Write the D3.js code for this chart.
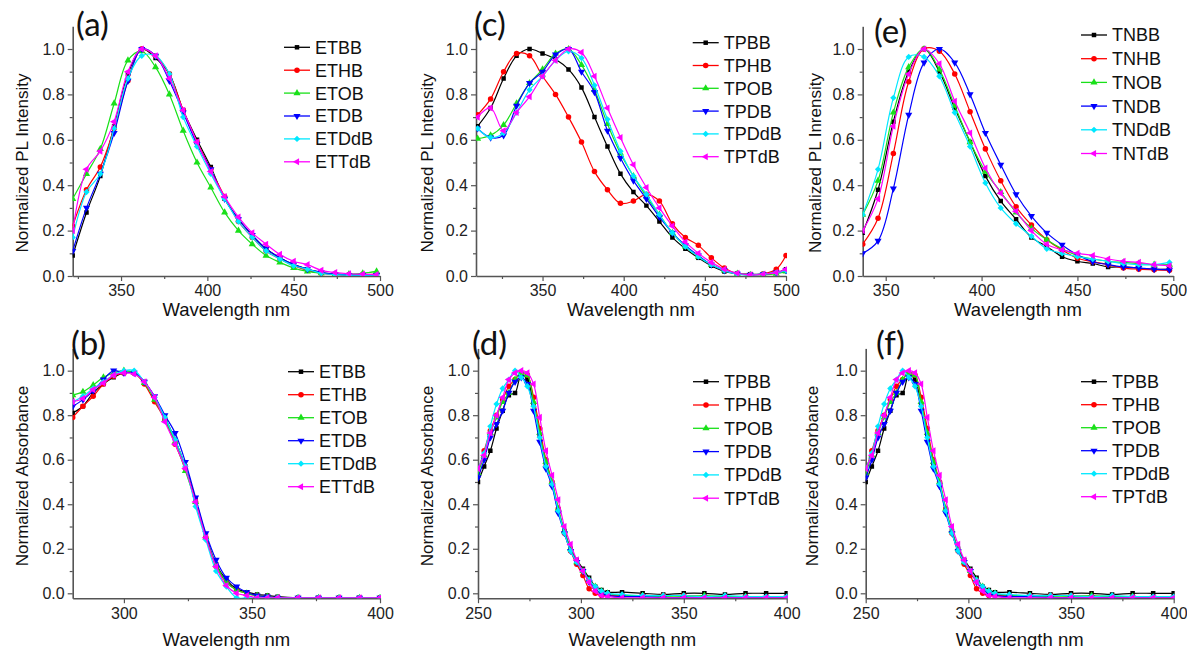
<!DOCTYPE html>
<html>
<head>
<meta charset="utf-8">
<script src="https://cdn.jsdelivr.net/npm/d3@7"></script>
<style>
	body { margin: 0; background: #fff; }
	text { font-family: "Liberation Sans", Arial, sans-serif; }
</style>
</head>
<body>
<svg id="chart" width="1187" height="650"></svg>
<script>
/* ---- panel (a): ET series, PL ---- */
const X_A = [322,330,338,346,354,362,370,378,386,394,402,410,418,426,434,442,450,458,466,474,482,490,498];
const A_ETBB  = [0.09,0.28,0.44,0.66,0.89,1.0,0.96,0.89,0.73,0.60,0.48,0.34,0.25,0.18,0.12,0.08,0.05,0.03,0.015,0.008,0.005,0.005,0.005];
const A_ETHB  = [0.22,0.38,0.48,0.65,0.86,1.0,0.97,0.89,0.73,0.59,0.47,0.35,0.24,0.17,0.11,0.075,0.045,0.025,0.012,0.006,0.004,0.005,0.01];
const A_ETOB  = [0.34,0.45,0.56,0.76,0.95,0.99,0.92,0.80,0.64,0.50,0.39,0.28,0.20,0.14,0.09,0.06,0.035,0.02,0.012,0.008,0.008,0.012,0.02];
const A_ETDB  = [0.11,0.30,0.45,0.63,0.86,1.0,0.97,0.86,0.72,0.58,0.47,0.34,0.25,0.18,0.12,0.08,0.05,0.03,0.015,0.008,0.004,0.004,0.004];
const A_ETDdB = [0.17,0.37,0.45,0.65,0.87,0.97,0.97,0.89,0.70,0.57,0.45,0.34,0.24,0.17,0.11,0.075,0.045,0.03,0.012,0.006,0.004,0.004,0.004];
const A_ETTdB = [0.20,0.47,0.55,0.68,0.90,1.0,0.97,0.87,0.73,0.59,0.46,0.35,0.26,0.19,0.14,0.095,0.065,0.05,0.025,0.015,0.01,0.008,0.006];

/* ---- panel (c): TP series, PL ---- */
const X_C = [310,318,326,334,342,350,358,366,374,382,390,398,406,414,422,430,438,446,454,462,470,478,486,494,500];
const C_TPBB  = [0.66,0.74,0.87,0.97,1.0,0.98,0.955,0.91,0.83,0.70,0.57,0.45,0.37,0.31,0.24,0.17,0.12,0.08,0.045,0.02,0.01,0.008,0.008,0.015,0.03];
const C_TPHB  = [0.71,0.78,0.90,0.98,0.97,0.88,0.80,0.70,0.59,0.46,0.38,0.32,0.33,0.36,0.33,0.23,0.17,0.135,0.08,0.035,0.01,0.005,0.01,0.03,0.09];
const C_TPOB  = [0.605,0.62,0.665,0.76,0.85,0.91,0.98,1.0,0.93,0.82,0.67,0.54,0.44,0.35,0.27,0.19,0.13,0.085,0.05,0.025,0.01,0.005,0.005,0.01,0.02];
const C_TPDB  = [0.65,0.61,0.62,0.75,0.85,0.90,0.975,1.0,0.90,0.81,0.64,0.52,0.42,0.34,0.26,0.19,0.135,0.09,0.05,0.025,0.01,0.005,0.008,0.015,0.025];
const C_TPDdB = [0.65,0.61,0.63,0.72,0.82,0.88,0.95,0.99,0.96,0.84,0.69,0.55,0.44,0.36,0.27,0.19,0.13,0.085,0.05,0.025,0.008,0.005,0.008,0.015,0.025];
const C_TPTdB = [0.70,0.74,0.64,0.72,0.79,0.88,0.95,1.0,0.985,0.88,0.74,0.61,0.49,0.39,0.30,0.22,0.15,0.10,0.06,0.03,0.012,0.005,0.008,0.015,0.03];

/* ---- panel (e): TN series, PL ---- */
const X_E = [338,346,354,362,370,378,386,394,402,410,418,426,434,442,450,458,466,474,482,490,498];
const E_TNBB  = [0.19,0.38,0.68,0.90,1.0,0.90,0.74,0.59,0.44,0.33,0.25,0.17,0.13,0.085,0.065,0.055,0.04,0.04,0.035,0.03,0.03];
const E_TNHB  = [0.14,0.254,0.54,0.856,1.0,0.99,0.89,0.724,0.56,0.42,0.305,0.225,0.16,0.115,0.078,0.063,0.05,0.035,0.03,0.027,0.025];
const E_TNOB  = [0.27,0.42,0.72,0.92,1.0,0.91,0.75,0.59,0.46,0.37,0.28,0.21,0.16,0.12,0.09,0.075,0.065,0.06,0.055,0.05,0.05];
const E_TNDB  = [0.10,0.155,0.385,0.71,0.94,1.0,0.94,0.80,0.63,0.49,0.36,0.264,0.19,0.137,0.093,0.063,0.05,0.04,0.035,0.03,0.027];
const E_TNDdB = [0.27,0.47,0.785,0.965,0.965,0.88,0.72,0.57,0.41,0.30,0.23,0.175,0.12,0.10,0.085,0.075,0.065,0.055,0.05,0.05,0.06];
const E_TNTdB = [0.20,0.34,0.66,0.89,1.0,0.935,0.77,0.63,0.475,0.365,0.285,0.20,0.14,0.115,0.10,0.09,0.075,0.065,0.06,0.05,0.045];

/* ---- panel (b): ET series, absorbance ---- */
const X_B = [280,284,288,292,296,300,304,308,312,316,320,324,328,332,336,340,344,348,352,356,360,368,376,384,392,400];
const B_ETBB  = [0.81,0.84,0.90,0.94,0.97,0.99,0.99,0.95,0.88,0.79,0.69,0.57,0.42,0.26,0.13,0.06,0.02,0.005,-0.005,-0.01,-0.015,-0.02,-0.02,-0.02,-0.02,-0.02];
const B_ETHB  = [0.79,0.84,0.885,0.94,0.975,0.99,0.99,0.94,0.86,0.78,0.67,0.56,0.41,0.25,0.12,0.05,0.015,0.0,-0.01,-0.015,-0.02,-0.02,-0.02,-0.02,-0.02,-0.02];
const B_ETOB  = [0.89,0.905,0.935,0.97,0.99,1.0,0.99,0.945,0.87,0.78,0.68,0.55,0.41,0.25,0.13,0.05,0.015,0.0,-0.01,-0.015,-0.02,-0.02,-0.02,-0.02,-0.02,-0.02];
const B_ETDB  = [0.84,0.87,0.91,0.96,1.0,0.99,0.99,0.95,0.885,0.80,0.72,0.59,0.43,0.27,0.15,0.07,0.03,0.005,-0.01,-0.015,-0.02,-0.02,-0.02,-0.02,-0.02,-0.02];
const B_ETDdB = [0.86,0.885,0.92,0.95,0.98,1.0,1.0,0.95,0.88,0.79,0.69,0.57,0.39,0.24,0.10,0.03,-0.02,-0.02,-0.02,-0.02,-0.02,-0.02,-0.02,-0.02,-0.02,-0.02];
const B_ETTdB = [0.86,0.875,0.915,0.945,0.98,0.99,0.985,0.95,0.88,0.77,0.67,0.56,0.41,0.25,0.12,0.035,0.0,-0.01,-0.02,-0.02,-0.02,-0.02,-0.02,-0.02,-0.02,-0.02];

/* ---- panels (d) and (f): TP series, absorbance (same curves in both) ---- */
const X_D = [250,253,256,259,262,265,268,271,274,277,280,283,286,289,292,295,298,301,304,307,310,313,320,330,340,350,360,370,380,390,400];
const D_TPBB  = [0.50,0.57,0.64,0.74,0.82,0.89,0.90,0.98,0.96,0.85,0.71,0.58,0.49,0.37,0.28,0.20,0.15,0.11,0.07,0.03,0.015,0.005,0.005,0.0,-0.005,0.0,0.0,-0.005,0.0,0.0,0.0];
const D_TPHB  = [0.55,0.64,0.73,0.80,0.87,0.93,0.96,0.99,0.98,0.88,0.74,0.60,0.50,0.38,0.27,0.19,0.13,0.08,0.02,0.0,-0.01,-0.01,-0.01,-0.01,-0.01,-0.01,-0.015,-0.015,-0.015,-0.02,-0.02];
const D_TPOB  = [0.54,0.62,0.72,0.79,0.86,0.90,0.96,0.99,0.98,0.86,0.72,0.59,0.50,0.38,0.28,0.20,0.14,0.10,0.06,0.03,0.01,0.0,-0.01,-0.01,-0.015,-0.015,-0.01,-0.015,-0.015,-0.02,-0.02];
const D_TPDB  = [0.52,0.60,0.70,0.76,0.82,0.90,0.95,0.97,0.94,0.82,0.68,0.56,0.48,0.36,0.27,0.19,0.14,0.10,0.05,0.02,0.0,-0.01,-0.015,-0.015,-0.02,-0.02,-0.02,-0.02,-0.02,-0.02,-0.02];
const D_TPDdB = [0.56,0.63,0.75,0.85,0.92,0.96,1.0,0.97,0.93,0.84,0.70,0.57,0.49,0.37,0.27,0.19,0.14,0.10,0.06,0.03,0.01,0.0,-0.005,-0.01,-0.01,-0.01,-0.015,-0.01,-0.015,-0.015,-0.015];
const D_TPTdB = [0.56,0.62,0.72,0.80,0.88,0.96,0.99,1.0,0.99,0.94,0.79,0.64,0.53,0.42,0.30,0.22,0.15,0.10,0.05,0.01,-0.01,-0.015,-0.02,-0.02,-0.02,-0.02,-0.02,-0.02,-0.02,-0.02,-0.02];

const NAMES_ET = ['ETBB','ETHB','ETOB','ETDB','ETDdB','ETTdB'];
const NAMES_TP = ['TPBB','TPHB','TPOB','TPDB','TPDdB','TPTdB'];
const NAMES_TN = ['TNBB','TNHB','TNOB','TNDB','TNDdB','TNTdB'];
const Y_TICKS = [0.0,0.2,0.4,0.6,0.8,1.0];
const Y_MINOR = [0.1,0.3,0.5,0.7,0.9];

const COLORS = ['#000000','#ff0000','#19e019','#0000ff','#00e8ff','#ff00ff'];
// square, circle, up triangle, down triangle, diamond, left triangle
const SYMBOLS = [
	{type: d3.symbolSquare, rot: 0, size: 20},
	{type: d3.symbolCircle, rot: 0, size: 24},
	{type: d3.symbolTriangle, rot: 0, size: 22},
	{type: d3.symbolTriangle, rot: 180, size: 22},
	{type: d3.symbolSquare, rot: 45, size: 20},
	{type: d3.symbolTriangle, rot: -90, size: 22}
];

const PANELS = [
	{id:'a', label:'(a)', xs:X_A, names:NAMES_ET, ys:[A_ETBB,A_ETHB,A_ETOB,A_ETDB,A_ETDdB,A_ETTdB],
	 xDom:[322,500], xTicks:[350,400,450,500], xMinor:[325,375,425,475], yDom:[0,1.1],
	 px:[72.7,380], py:[276,26.3], yTitle:'Normalized PL Intensity', yTitleX:28, yTitleY:163,
	 labX:76, labY:36, legX:284, legY:47.3, legDy:22.9, xTitleY:316},
	{id:'c', label:'(c)', xs:X_C, names:NAMES_TP, ys:[C_TPBB,C_TPHB,C_TPOB,C_TPDB,C_TPDdB,C_TPTdB],
	 xDom:[309,500], xTicks:[350,400,450,500], xMinor:[325,375,425,475], yDom:[0,1.1],
	 px:[476,786], py:[276,26.3], yTitle:'Normalized PL Intensity', yTitleX:433, yTitleY:163,
	 labX:474, labY:36, legX:692.7, legY:42.7, legDy:22.8, xTitleY:316},
	{id:'e', label:'(e)', xs:X_E, names:NAMES_TN, ys:[E_TNBB,E_TNHB,E_TNOB,E_TNDB,E_TNDdB,E_TNTdB],
	 xDom:[338,500], xTicks:[350,400,450,500], xMinor:[375,425,475], yDom:[0,1.1],
	 px:[862.7,1173.3], py:[276,26.3], yTitle:'Normalized PL Inrensity', yTitleX:821, yTitleY:163,
	 labX:874, labY:43, legX:1081, legY:35, legDy:23.7, xTitleY:316},
	{id:'b', label:'(b)', xs:X_B, names:NAMES_ET, ys:[B_ETBB,B_ETHB,B_ETOB,B_ETDB,B_ETDdB,B_ETTdB],
	 xDom:[280,400], xTicks:[300,350,400], xMinor:[325,375], yDom:[-0.022,1.1],
	 px:[72.7,380], py:[598.2,348.4], yTitle:'Normalized Absorbance', yTitleX:28, yTitleY:476,
	 labX:71, labY:355, legX:288, legY:371.7, legDy:23, xTitleY:646},
	{id:'d', label:'(d)', xs:X_D, names:NAMES_TP, ys:[D_TPBB,D_TPHB,D_TPOB,D_TPDB,D_TPDdB,D_TPTdB],
	 xDom:[250,400], xTicks:[250,300,350,400], xMinor:[275,325,375], yDom:[-0.022,1.1],
	 px:[478,786.7], py:[598.2,348.4], yTitle:'Normalized Absorbance', yTitleX:433, yTitleY:476,
	 labX:472, labY:355, legX:693, legY:381.7, legDy:23.3, xTitleY:646},
	{id:'f', label:'(f)', xs:X_D, names:NAMES_TP, ys:[D_TPBB,D_TPHB,D_TPOB,D_TPDB,D_TPDdB,D_TPTdB],
	 xDom:[250,400], xTicks:[250,300,350,400], xMinor:[275,325,375], yDom:[-0.022,1.1],
	 px:[865.7,1173.7], py:[598.2,348.4], yTitle:'Normalized Absorbance', yTitleX:818, yTitleY:476,
	 labX:876, labY:355, legX:1081, legY:381.7, legDy:23, xTitleY:646}
];

const svg = d3.select('#chart');

function symbolPath(i) {
	return d3.symbol().type(SYMBOLS[i].type).size(SYMBOLS[i].size)();
}

function drawPanel(p) {
	const x = d3.scaleLinear().domain(p.xDom).range(p.px);
	const y = d3.scaleLinear().domain(p.yDom).range(p.py);
	const g = svg.append('g');

	/* clip so curves stay inside the axes */
	svg.append('clipPath').attr('id', 'clip-' + p.id)
		.append('rect')
		.attr('x', p.px[0]).attr('y', p.py[1] - 6)
		.attr('width', p.px[1] - p.px[0] + 1)
		.attr('height', p.py[0] - p.py[1] + 6);

	/* axes: major + minor ticks */
	const axisColor = '#555';
	g.append('g').attr('transform', `translate(0,${p.py[0]})`)
		.call(d3.axisBottom(x).tickValues(p.xTicks).tickSize(5).tickSizeOuter(0).tickPadding(4));
	g.append('g').attr('transform', `translate(0,${p.py[0]})`)
		.call(d3.axisBottom(x).tickValues(p.xMinor).tickSize(3).tickSizeOuter(0).tickFormat(''))
		.select('.domain').remove();
	g.append('g').attr('transform', `translate(${p.px[0]},0)`)
		.call(d3.axisLeft(y).tickValues(Y_TICKS).tickFormat(d3.format('.1f')).tickSize(5).tickSizeOuter(0).tickPadding(3));
	g.append('g').attr('transform', `translate(${p.px[0]},0)`)
		.call(d3.axisLeft(y).tickValues(Y_MINOR).tickSize(3).tickFormat(''))
		.select('.domain').remove();
	g.selectAll('.domain').attr('stroke', axisColor).attr('stroke-width', 1.6);
	g.selectAll('.tick line').attr('stroke', axisColor).attr('stroke-width', 1.2);
	g.selectAll('.tick text').attr('fill', '#222').style('font-size', '16px')
		.style('font-family', '"Liberation Sans", Arial, sans-serif');

	/* curves and markers, last series on top like the original */
	const plot = g.append('g').attr('clip-path', `url(#clip-${p.id})`);
	p.ys.forEach((vals, i) => {
		const pts = vals.map((v, k) => [p.xs[k], v]);
		const line = d3.line()
			.x(d => x(d[0]))
			.y(d => y(d[1]))
			.curve(d3.curveCatmullRom.alpha(0.5));
		plot.append('path')
			.attr('d', line(pts))
			.attr('fill', 'none')
			.attr('stroke', COLORS[i])
			.attr('stroke-width', 1.2);
		plot.selectAll(null)
			.data(pts)
			.enter().append('path')
				.attr('d', symbolPath(i))
				.attr('transform', d => `translate(${x(d[0])},${y(d[1])}) rotate(${SYMBOLS[i].rot})`)
				.attr('fill', COLORS[i]);
	});

	/* legend */
	p.names.forEach((name, i) => {
		const ly = p.legY + i * p.legDy;
		g.append('line')
			.attr('x1', p.legX).attr('x2', p.legX + 26)
			.attr('y1', ly).attr('y2', ly)
			.attr('stroke', COLORS[i]).attr('stroke-width', 1.3);
		g.append('path')
			.attr('d', symbolPath(i))
			.attr('transform', `translate(${p.legX + 13},${ly}) rotate(${SYMBOLS[i].rot})`)
			.attr('fill', COLORS[i]);
		g.append('text')
			.attr('x', p.legX + 31).attr('y', ly)
			.attr('dy', '0.36em')
			.style('font-size', '18px')
			.attr('fill', '#111')
			.text(name);
	});

	/* titles */
	g.append('text')
		.attr('x', (p.px[0] + p.px[1]) / 2).attr('y', p.xTitleY)
		.attr('text-anchor', 'middle')
		.style('font-size', '18.5px').attr('fill', '#111')
		.text('Wavelength nm');
	g.append('text')
		.attr('transform', `translate(${p.yTitleX},${p.yTitleY}) rotate(-90)`)
		.attr('text-anchor', 'middle')
		.style('font-size', '17px').attr('fill', '#111')
		.text(p.yTitle);
	g.append('text')
		.attr('x', p.labX).attr('y', p.labY)
		.style('font-family', 'Lato, "Open Sans", sans-serif')
		.style('font-size', '33px').attr('fill', '#111')
		.text(p.label);
}

PANELS.forEach(drawPanel);
</script>
</body>
</html>
